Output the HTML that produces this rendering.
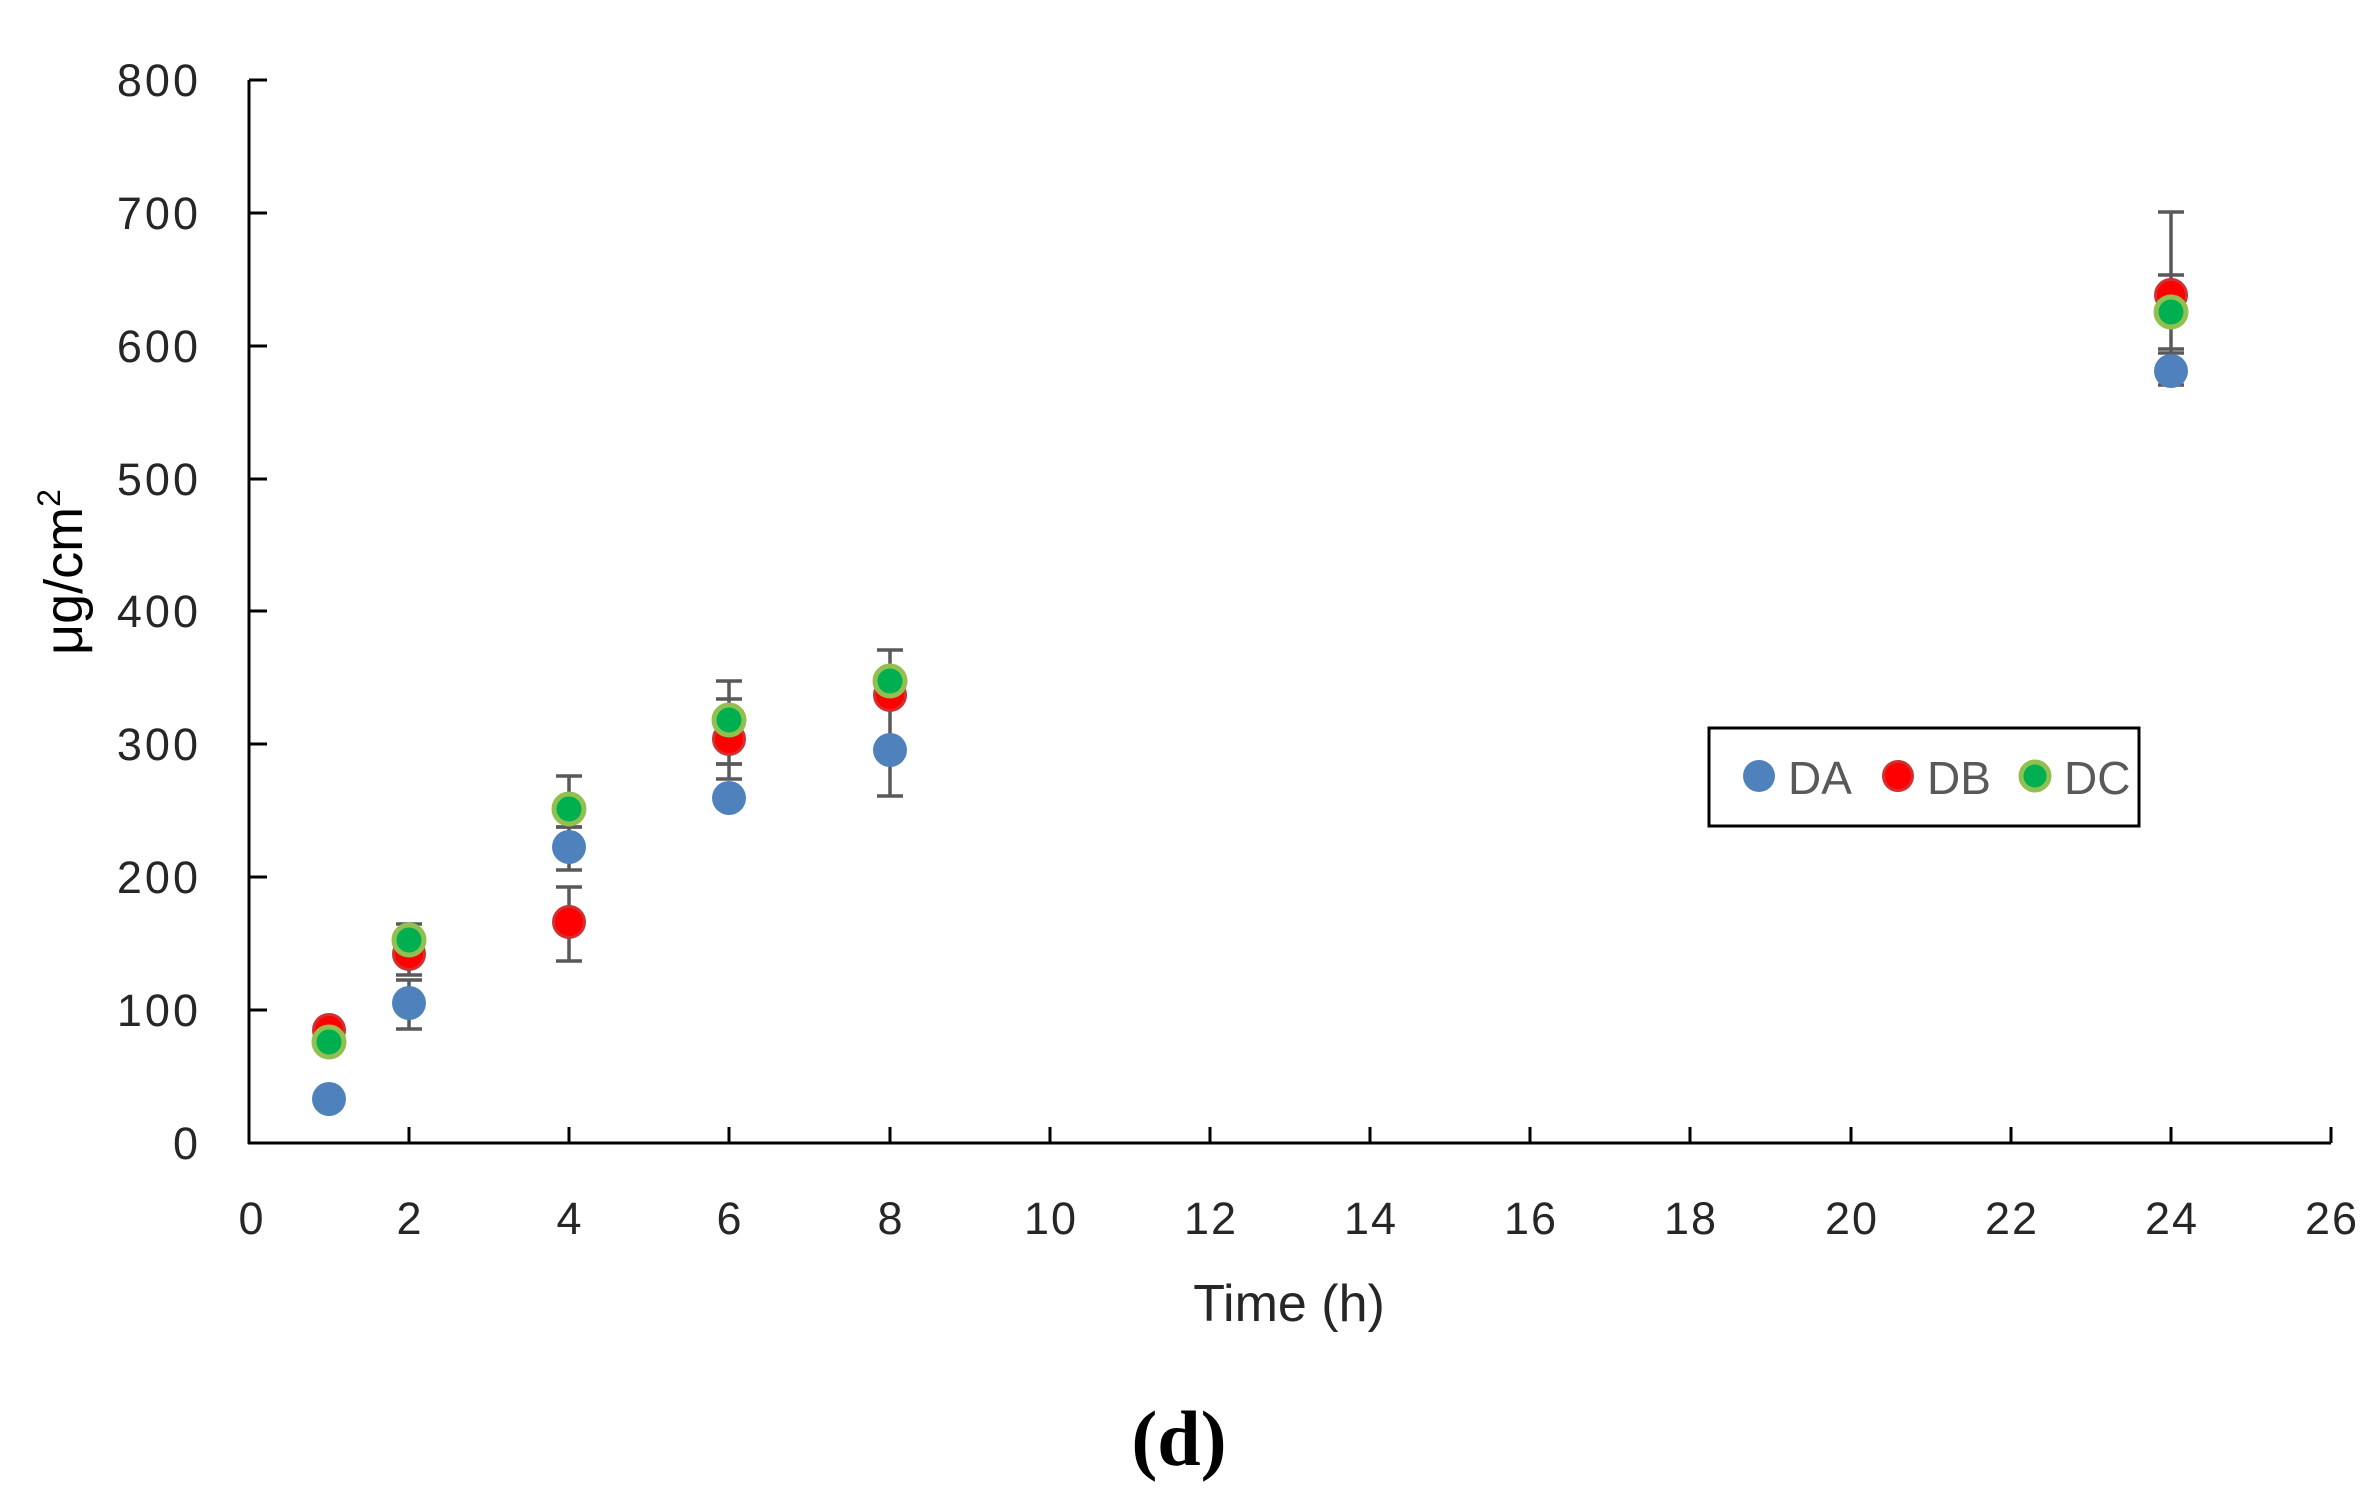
<!DOCTYPE html>
<html><head><meta charset="utf-8"><style>
html,body{margin:0;padding:0;background:#fff;}
svg{display:block;}
text{font-family:"Liberation Sans",sans-serif;fill:#262626;}
</style></head><body>
<svg width="2378" height="1496" viewBox="0 0 2378 1496" xmlns="http://www.w3.org/2000/svg">
<g stroke="#000" stroke-width="3" fill="none">
<line x1="249" y1="80" x2="249" y2="1144"/>
<line x1="248" y1="1143" x2="2331" y2="1143"/>
<line x1="249" y1="80" x2="267" y2="80"/>
<line x1="249" y1="213" x2="267" y2="213"/>
<line x1="249" y1="346" x2="267" y2="346"/>
<line x1="249" y1="479" x2="267" y2="479"/>
<line x1="249" y1="611" x2="267" y2="611"/>
<line x1="249" y1="744" x2="267" y2="744"/>
<line x1="249" y1="877" x2="267" y2="877"/>
<line x1="249" y1="1010" x2="267" y2="1010"/>
<line x1="409" y1="1127" x2="409" y2="1143"/><line x1="569" y1="1127" x2="569" y2="1143"/><line x1="729" y1="1127" x2="729" y2="1143"/><line x1="890" y1="1127" x2="890" y2="1143"/><line x1="1050" y1="1127" x2="1050" y2="1143"/><line x1="1210" y1="1127" x2="1210" y2="1143"/><line x1="1370" y1="1127" x2="1370" y2="1143"/><line x1="1530" y1="1127" x2="1530" y2="1143"/><line x1="1690" y1="1127" x2="1690" y2="1143"/><line x1="1851" y1="1127" x2="1851" y2="1143"/><line x1="2011" y1="1127" x2="2011" y2="1143"/><line x1="2171" y1="1127" x2="2171" y2="1143"/><line x1="2331" y1="1127" x2="2331" y2="1143"/>
</g>
<g font-size="45" text-anchor="end" letter-spacing="3">
<text x="201" y="96">800</text><text x="201" y="229">700</text><text x="201" y="362">600</text><text x="201" y="495">500</text><text x="201" y="627">400</text><text x="201" y="760">300</text><text x="201" y="893">200</text><text x="201" y="1026">100</text><text x="201" y="1159">0</text>
</g>
<g font-size="45" text-anchor="middle" letter-spacing="2">
<text x="252" y="1234">0</text><text x="410" y="1234">2</text><text x="570" y="1234">4</text><text x="730" y="1234">6</text><text x="891" y="1234">8</text><text x="1051" y="1234">10</text><text x="1211" y="1234">12</text><text x="1371" y="1234">14</text><text x="1531" y="1234">16</text><text x="1691" y="1234">18</text><text x="1852" y="1234">20</text><text x="2012" y="1234">22</text><text x="2172" y="1234">24</text><text x="2332" y="1234">26</text>
</g>
<text x="1289" y="1321" font-size="52" text-anchor="middle">Time (h)</text>
<text transform="translate(82,572) rotate(-90)" font-size="54" text-anchor="middle" style="fill:#000">μg/cm<tspan font-size="32" dy="-22">2</tspan></text>
<text x="1179" y="1465" font-size="78" font-weight="bold" text-anchor="middle" style="font-family:'Liberation Serif',serif;fill:#000">(d)</text>

<g stroke="#595959" stroke-width="3.5" fill="none">
<path d="M409 1029V980M396 1029H422M396 980H422"/>
<path d="M409 975V924M396 975H422M396 924H422"/>
<path d="M569 870V827M556 870H582M556 827H582"/>
<path d="M569 961V887M556 961H582M556 887H582"/>
<path d="M569 827V776M556 827H582M556 776H582"/>
<path d="M729 779V764M716 779H742M716 764H742"/>
<path d="M729 764V681M716 764H742M716 699H742M716 681H742"/>
<path d="M890 796V650M877 796H903M877 650H903"/>
<path d="M2171 385V212M2158 385H2184M2158 353H2184M2158 349H2184M2158 275H2184M2158 212H2184"/>
</g>
<g>
<circle cx="329" cy="1099" r="17" fill="#4f81bd"/>
<circle cx="409" cy="1003" r="17" fill="#4f81bd"/>
<circle cx="569" cy="847" r="17" fill="#4f81bd"/>
<circle cx="729" cy="798" r="17" fill="#4f81bd"/>
<circle cx="890" cy="750" r="17" fill="#4f81bd"/>
<circle cx="2171" cy="371" r="17" fill="#4f81bd"/>
</g>
<g fill="#ff0000" stroke="#d03030" stroke-width="3">
<circle cx="329" cy="1030" r="15.5"/>
<circle cx="409" cy="954" r="15.5"/>
<circle cx="569" cy="922" r="15.5"/>
<circle cx="729" cy="739" r="15.5"/>
<circle cx="890" cy="695" r="15.5"/>
<circle cx="2171" cy="295" r="15.5"/>
</g>
<g fill="#00b050" stroke="#92c050" stroke-width="5">
<circle cx="329" cy="1042" r="15"/>
<circle cx="409" cy="940" r="15"/>
<circle cx="569" cy="809" r="15"/>
<circle cx="729" cy="720" r="15"/>
<circle cx="890" cy="681" r="15"/>
<circle cx="2171" cy="312" r="15"/>
</g>
<rect x="1709" y="728" width="430" height="98" fill="none" stroke="#000" stroke-width="3"/>
<circle cx="1759" cy="776" r="16" fill="#4f81bd"/>
<circle cx="1898" cy="776" r="14.5" fill="#ff0000" stroke="#d03030" stroke-width="3"/>
<circle cx="2035" cy="776" r="14" fill="#00b050" stroke="#92c050" stroke-width="5"/>
<g font-size="46">
<text x="1788" y="794" style="fill:#595959">DA</text>
<text x="1927" y="794" style="fill:#595959">DB</text>
<text x="2064" y="794" style="fill:#595959">DC</text>
</g>
</svg>
</body></html>
